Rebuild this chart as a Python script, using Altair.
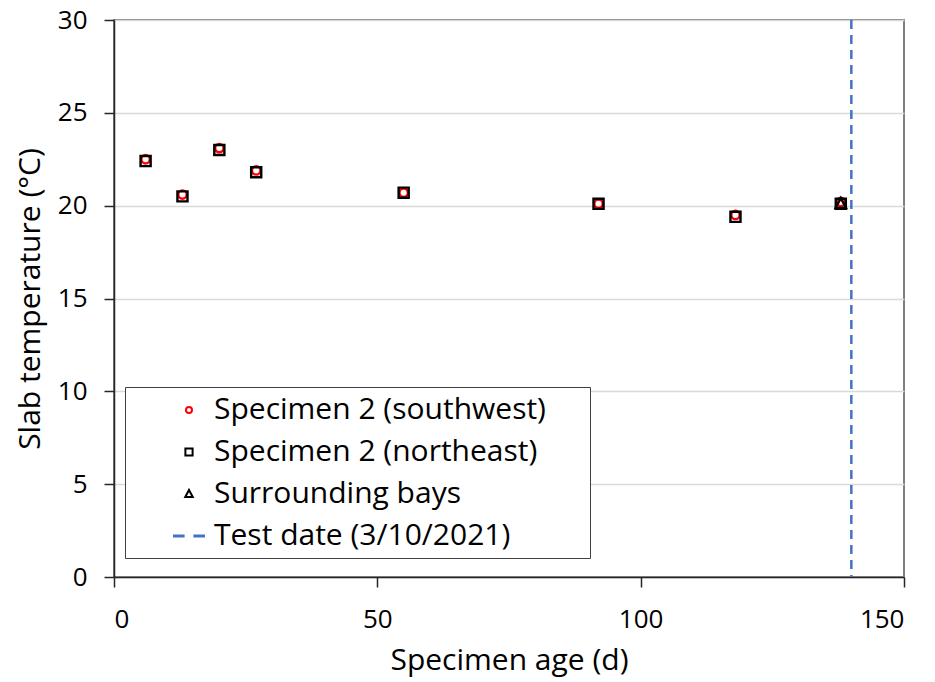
import altair as alt
import pandas as pd

# Slab temperature readings by specimen age (days)
ages = [6, 13, 20, 27, 55, 92, 118, 138]
southwest = [22.5, 20.6, 23.1, 21.9, 20.7, 20.1, 19.5, 20.2]
northeast = [22.4, 20.5, 23.0, 21.8, 20.7, 20.1, 19.4, 20.1]
bays_ages = [138]
bays = [20.1]
test_date = [140]

series_names = [
    "Specimen 2 (southwest)",
    "Specimen 2 (northeast)",
    "Surrounding bays",
    "Test date (3/10/2021)",
]
series_colors = ["#FF0000", "#000000", "#000000", "#4472C4"]
# marker outlines in unit-square coordinates; the last one is a short dashed
# line whose trailing move-to widens the legend box without drawing anything
series_shapes = [
    "M-0.2,0A0.2,0.2 0 1,0 0.2,0A0.2,0.2 0 1,0 -0.2,0Z",
    "M-0.24,-0.24H0.24V0.24H-0.24Z",
    "M0,-0.27L0.25,0.2H-0.25Z",
    "M-1,-0.03H-0.36V0.03H-1Z M0.36,-0.03H1V0.03H0.36Z M26,0",
]

rows = []
for a, t in zip(ages, southwest):
    rows.append({"age": a, "temp": t, "series": series_names[0]})
for a, t in zip(ages, northeast):
    rows.append({"age": a, "temp": t, "series": series_names[1]})
for a, t in zip(bays_ages, bays):
    rows.append({"age": a, "temp": t, "series": series_names[2]})
points_df = pd.DataFrame(rows)
test_df = pd.DataFrame({"age": test_date})

FONT = "Open Sans"

x_scale = alt.Scale(domain=[0, 150], nice=False, zero=False)
y_scale = alt.Scale(domain=[0, 30], nice=False)

legend = alt.Legend(
    title=None,
    orient="none",
    legendX=11,
    legendY=367,
    padding=7,
    strokeColor="#404040",
    fillColor="#FFFFFF",
    symbolSize=900,
    symbolStrokeWidth=2,
    symbolOffset=41,
    labelOffset=9,
    rowPadding=11,
    labelFont=FONT,
    labelFontSize=30,
    labelColor="#000000",
    labelLimit=700,
)

points = alt.Chart(points_df).mark_point(filled=False, size=1764, strokeWidth=2.4, opacity=1).encode(
    x=alt.X("age:Q", scale=x_scale,
            axis=alt.Axis(title="Specimen age (d)", values=[0, 50, 100, 150], grid=False)),
    y=alt.Y("temp:Q", scale=y_scale,
            axis=alt.Axis(title="Slab temperature (°C)", values=[0, 5, 10, 15, 20, 25, 30])),
    shape=alt.Shape("series:N", scale=alt.Scale(domain=series_names, range=series_shapes), legend=legend),
    stroke=alt.Stroke("series:N", scale=alt.Scale(domain=series_names, range=series_colors), legend=legend),
)

test_line = alt.Chart(test_df).mark_rule(
    color="#4472C4", strokeWidth=2.5, strokeDash=[9, 6]
).encode(x=alt.X("age:Q", scale=x_scale))

chart = (
    alt.layer(test_line, points)
    .properties(
        width=790,
        height=557,
        padding={"left": 114, "top": 20, "right": 31, "bottom": 105},
        autosize=alt.AutoSizeParams(type="none"),
    )
    .configure_view(stroke="#7F7F7F", strokeWidth=2)
    .configure_axis(
        labelFont=FONT,
        labelFontSize=26,
        labelColor="#000000",
        titleFont=FONT,
        titleFontSize=30,
        titleFontWeight="normal",
        titleColor="#000000",
        domainColor="#262626",
        domainWidth=1.5,
        tickColor="#262626",
        tickWidth=1.5,
        tickSize=10,
        gridColor="#D9D9D9",
        gridWidth=1.5,
    )
    .configure_axisX(labelPadding=19, titleY=83, titleBaseline="middle")
    .configure_axisY(labelPadding=17, titleX=-84, titleBaseline="middle")
)

chart.save("out.html", embed_options={"renderer": "svg", "actions": False})
